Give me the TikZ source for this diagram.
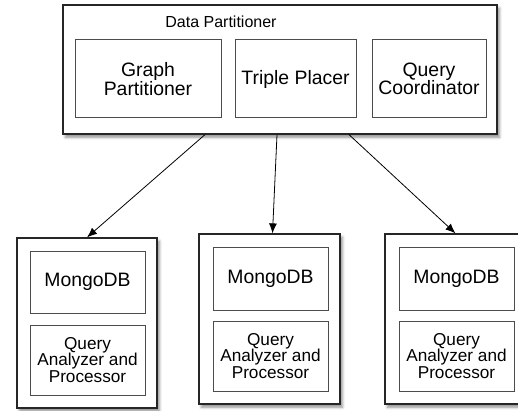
\documentclass[tikz,border=0pt]{standalone}
\usepackage{fontspec}
\setmainfont{Liberation Sans}
\usetikzlibrary{arrows.meta,shadows.blur}

\begin{document}
\begin{tikzpicture}[x=0.5pt,y=-0.5pt,
    outer/.style={draw=black!85,fill=white,line width=0.6pt,inner sep=0pt,
      blur shadow={shadow xshift=1.2pt,shadow yshift=-1.6pt,shadow blur radius=1.4pt,shadow opacity=45}},
    inner/.style={draw=black!70,fill=white,line width=0.5pt,inner sep=1pt,align=center,
      font=\fontsize{9.7}{9.2}\selectfont},
    qa/.style={inner,font=\fontsize{8.6}{8.3}\selectfont},
    link/.style={-{Latex[length=5pt,width=4pt]},line width=0.4pt}]
    \useasboundingbox (0,0) rectangle (518,411);
    %% partitioner
    \node[outer,minimum width=217pt,minimum height=64.5pt] (dp) at (280,69.5) {};
    \node[font=\fontsize{8}{9}\selectfont] (dptitle) at (221,22) {Data Partitioner};
    \node[inner,minimum width=73pt,minimum height=39pt] (gp) at (148,79) {Graph\\Partitioner};
    \node[inner,minimum width=60.5pt,minimum height=39pt] (tp) at (295.5,79) {Triple Placer};
    \node[inner,minimum width=57pt,minimum height=39pt] (qc) at (429,79) {Query\\Coordinator};
    %% nodes
    \node[outer,minimum width=70pt,minimum height=85pt] (n1) at (87,323) {};
    \node[inner,minimum width=57.5pt,minimum height=31pt] (db1) at (87.5,282) {MongoDB};
    \node[qa,minimum width=57.5pt,minimum height=35pt] (qa1) at (87.5,360) {Query\\Analyzer and\\Processor};
    %%
    \node[outer,minimum width=70.5pt,minimum height=85pt] (n2) at (269.5,319) {};
    \node[inner,minimum width=57.5pt,minimum height=31.5pt] (db2) at (270.5,278.5) {MongoDB};
    \node[qa,minimum width=57.5pt,minimum height=35pt] (qa2) at (270.5,356) {Query\\Analyzer and\\Processor};
    %%
    \node[outer,minimum width=70.5pt,minimum height=85pt] (n3) at (455.5,319) {};
    \node[inner,minimum width=57.5pt,minimum height=31.5pt] (db3) at (456.5,278.5) {MongoDB};
    \node[qa,minimum width=57.5pt,minimum height=35pt] (qa3) at (456.5,356) {Query\\Analyzer and\\Processor};
    %% links
    \draw[link] ([xshift=-37.5pt]dp.south) -- (n1.north);
    \draw[link] ([xshift=-1.5pt]dp.south) -- ([xshift=1.5pt]n2.north);
    \draw[link] ([xshift=34.5pt]dp.south) -- (n3.north);
\end{tikzpicture}
\end{document}
